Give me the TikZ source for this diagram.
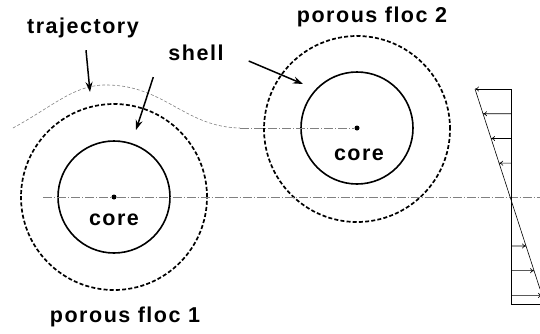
\documentclass[tikz,border=0pt]{standalone}
\usepackage{fontspec}
\setmainfont{Liberation Sans}[LetterSpace=7]
\usetikzlibrary{arrows.meta,calc}
\tikzset{
  lbl/.style={font=\fontsize{21.5}{23}\selectfont\bfseries, inner sep=1pt},
  core/.style={circle, draw, line width=1.6pt, minimum size=112pt, inner sep=0pt},
  shell/.style={circle, draw, line width=1.7pt, dash pattern=on 4pt off 2.2pt, minimum size=186pt, inner sep=0pt},
  centre/.style={circle, fill, minimum size=5pt, inner sep=0pt},
  pointer/.style={-{Stealth[length=10pt,width=7pt]}, line width=1.5pt},
  axis/.style={gray, line width=0.6pt, dash pattern=on 9pt off 2pt on 1pt off 2pt},
  traj/.style={gray, line width=0.6pt, dash pattern=on 3pt off 2pt},
  vel/.style={-{To[length=4pt,width=5pt]}, line width=0.6pt}
}
\begin{document}
\begin{tikzpicture}[x=1pt, y=-1pt]
  \useasboundingbox (0,0) rectangle (540,333);
  %nodes
  \node[shell] at (114,197) (shell1) {};
  \node[core] at (114,197) (core1) {};
  \node[centre] at (114,197) (c1) {};
  \node[lbl] at (114,220) (corelbl1) {core};
  \node[shell] at (357,129) (shell2) {};
  \node[core] at (357,128) (core2) {};
  \node[centre] at (357,128) (c2) {};
  \node[lbl] at (359,155) (corelbl2) {core};
  \node[lbl] at (83,28) (trajlbl) {trajectory};
  \node[lbl] at (196,53) (shelllbl) {shell};
  \node[lbl] at (372,17) (floc2) {porous floc 2};
  \node[lbl] at (125,317) (floc1) {porous floc 1};
  % trajectory and axis
  \coordinate (tstart) at (13,128);
  \coordinate (tend) at (240,128);
  \draw[traj] (tstart) .. controls (55,105) and (75,84) .. (108,85)
     .. controls (165,86) and (185,127) .. (tend);
  \draw[axis] (tend) -- (c2);
  \coordinate (astart) at (43,197);
  \coordinate (aend) at (540,197);
  \draw[axis] (astart) -- (c1) -- (aend);
  % pointers
  \coordinate (ontraj) at (90,92);
  \coordinate (inshell1) at (136,130);
  \coordinate (inshell2) at (303,84);
  \path[pointer]
     ($(trajlbl.south)+(3,11)$) edge (ontraj)
     ($(shelllbl.south west)+(-14,15)$) edge (inshell1)
     ($(shelllbl.east)+(24,8)$) edge (inshell2);
  % velocity profile
  \coordinate (ptop) at (511,89);
  \coordinate (pbot) at (511,304);
  \coordinate (pend) at (540,304);
  \coordinate (stop) at (475,89);
  \coordinate (sbot) at (540,289);
  \draw[line width=0.6pt] (ptop) -- (pbot) -- (pend);
  \draw[line width=0.6pt] (stop) -- (sbot);
  \foreach \t in {0,0.115,0.23,0.345,0.73,0.845,0.96}
    \draw[vel] ($(ptop)!\t!(pbot)$) -- ($(stop)!{\t*215/200}!(sbot)$);
\end{tikzpicture}
\end{document}
